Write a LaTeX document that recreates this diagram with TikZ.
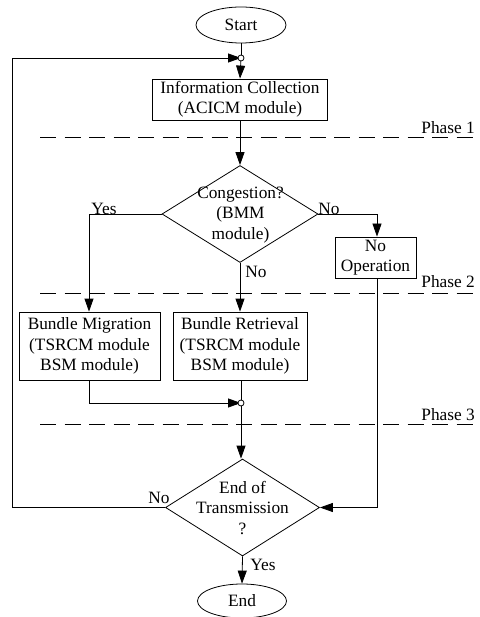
\documentclass[tikz,border=0pt]{standalone}
\usepackage{fontspec}
\setmainfont{Liberation Serif}
\usetikzlibrary{shapes.geometric,arrows.meta}
\begin{document}
\begin{tikzpicture}[x=1pt,y=-1pt,
  every node/.style={font=\fontsize{17.3}{20.5}\selectfont},
  line/.style={line width=0.8pt},
  arr/.style={line width=0.8pt,-{Triangle[length=13pt,width=9pt]}},
  procbox/.style={draw,line width=0.8pt,rectangle,inner sep=0pt,align=center},
  term/.style={draw,line width=0.8pt,ellipse,inner sep=0pt},
  decide/.style={draw,line width=0.8pt,diamond,inner sep=0pt},
  junc/.style={draw,line width=0.8pt,circle,fill=white,inner sep=0pt,minimum size=6pt},
  phaseline/.style={line width=0.8pt,dash pattern=on 16pt off 8.5pt},
  lbl/.style={inner sep=0pt}
]
\useasboundingbox (0,0) rectangle (479,617);
% terminals
\node[term,minimum width=90pt,minimum height=36pt] (start) at (241,25) {Start};
\node[term,minimum width=89pt,minimum height=34pt] (end) at (242,601) {End};
% process boxes
\node[procbox,minimum width=175pt,minimum height=41pt] (info) at (240,99.5) {Information Collection\\(ACICM module)};
\node[procbox,minimum width=81pt,minimum height=41pt] (noop) at (375.5,257.5) {No\\Operation};
\node[procbox,minimum width=141pt,minimum height=68pt] (mig) at (89.5,346) {Bundle Migration\\(TSRCM module\\BSM module)};
\node[procbox,minimum width=134pt,minimum height=68pt] (ret) at (240,346) {Bundle Retrieval\\(TSRCM module\\BSM module)};
% decisions
\node[decide,minimum width=156pt,minimum height=97pt] (cong) at (240,214) {};
\node[lbl,align=center] (congtxt) at (240.5,215) {Congestion?\\(BMM\\module)};
\node[decide,minimum width=154pt,minimum height=97pt] (eot) at (242.5,507.5) {};
\node[lbl,align=center] (eottxt) at (242.5,508) {End of\\Transmission\\?};
% corner coordinates
\coordinate (j1pos) at (241,58);
\coordinate (j2pos) at (241,403);
\coordinate (loopL) at (12,0);
\coordinate (yesC) at (89,0);
\coordinate (noC) at (377,0);
% lines
\draw[line] (start.south) -- (j1pos);
\draw[arr] (eot.west) -- (eot.west -| loopL) -- (j1pos -| loopL) -- (j1pos);
\draw[arr] (j1pos) -- (info.north);
\draw[arr] (info.south) -- (cong.north);
\draw[arr] (cong.west) -- (cong.west -| yesC) -- (mig.north -| yesC);
\draw[arr] (cong.east) -- (cong.east -| noC) -- (noop.north -| noC);
\draw[arr] (cong.south) -- (cong.south |- ret.north);
\draw[arr] (mig.south -| yesC) -- (j2pos -| yesC) -- (j2pos);
\draw[line] (ret.south -| j2pos) -- (j2pos);
\draw[arr] (j2pos) -- (j2pos |- eot.north);
\draw[arr] (noop.south -| noC) -- (eot.east -| noC) -- (eot.east);
\draw[arr] (eot.south) -- (end.north);
% junctions
\node[junc] (j1) at (j1pos) {};
\node[junc] (j2) at (j2pos) {};
% labels
\node[lbl] (yes1) at (104,209) {Yes};
\node[lbl] (no1) at (329,209) {No};
\node[lbl] (no2) at (256,272) {No};
\node[lbl] (no3) at (159,498) {No};
\node[lbl] (yes2) at (263,565) {Yes};
% phase lines
\draw[phaseline] (40,137) -- (479,137);
\draw[phaseline] (40,293) -- (479,293);
\draw[phaseline] (40,424) -- (479,424);
\node[lbl,anchor=east] (ph1) at (475,128) {Phase 1};
\node[lbl,anchor=east] (ph2) at (475,282) {Phase 2};
\node[lbl,anchor=east] (ph3) at (475,415) {Phase 3};
\end{tikzpicture}
\end{document}
